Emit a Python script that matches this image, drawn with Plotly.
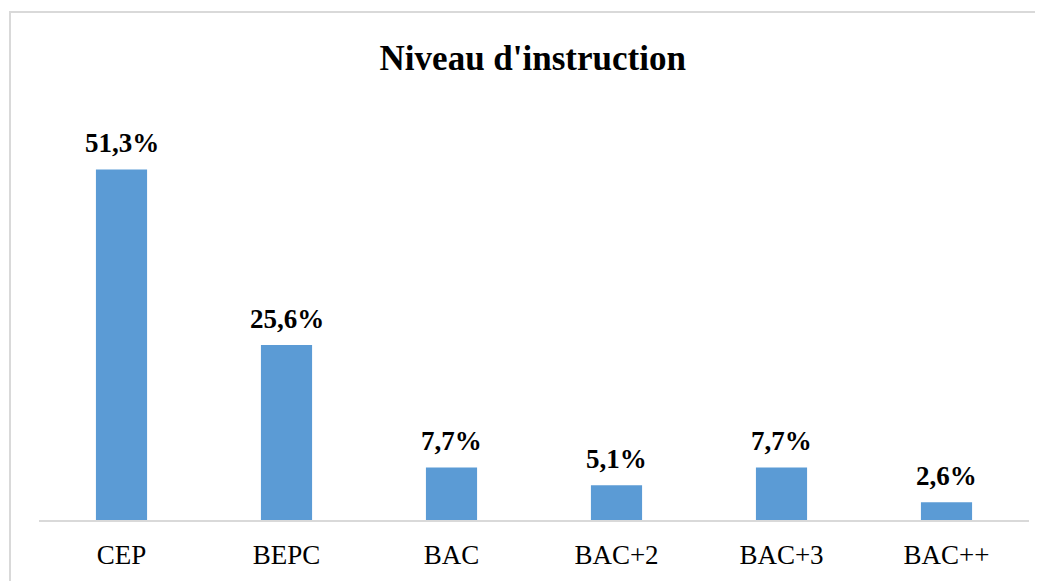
import plotly.graph_objects as go

# Niveau d'instruction - répartition en %
categories = ["CEP", "BEPC", "BAC", "BAC+2", "BAC+3", "BAC++"]
values = [51.3, 25.6, 7.7, 5.1, 7.7, 2.6]
labels = [f"{v:.1f}%".replace(".", ",") for v in values]

SERIF = "Liberation Serif, Times New Roman, serif"

fig = go.Figure()
fig.add_trace(go.Bar(
    x=categories,
    y=values,
    marker=dict(color="#5B9BD5", line=dict(width=0)),
    width=0.31,
    hoverinfo="skip",
))

# data labels above the bars
for cat, v, lab in zip(categories, values, labels):
    fig.add_annotation(
        x=cat, y=v, text=f"<b>{lab}</b>",
        showarrow=False, yanchor="bottom", yshift=9,
        font=dict(family=SERIF, size=27, color="#000000"),
    )

# chart border (outer frame)
fig.add_shape(
    type="rect", xref="paper", yref="paper",
    x0=-0.0293, x1=1.03, y0=-0.2, y1=1.239,
    line=dict(color="#D9D9D9", width=2), fillcolor="rgba(0,0,0,0)",
    layer="below",
)

# page body adds an 8px offset, so the figure is 8px smaller
fig.update_layout(
    width=1035, height=573,
    margin=dict(l=31, r=14, t=102, b=61),
    paper_bgcolor="white", plot_bgcolor="white",
    showlegend=False,
    title=dict(
        text="<b>Niveau d'instruction</b>",
        x=0.507, xanchor="center", y=0.914, yanchor="middle",
        font=dict(family=SERIF, size=35, color="#000000"),
    ),
    bargap=0.69,
)
fig.update_xaxes(
    showline=True, linecolor="#D9D9D9", linewidth=2,
    showgrid=False, ticks="", ticklabelstandoff=10,
    tickfont=dict(family=SERIF, size=27, color="#000000"),
)
fig.update_yaxes(
    range=[0, 60], visible=False, showgrid=False, zeroline=False,
)

fig.write_html("out.html")
